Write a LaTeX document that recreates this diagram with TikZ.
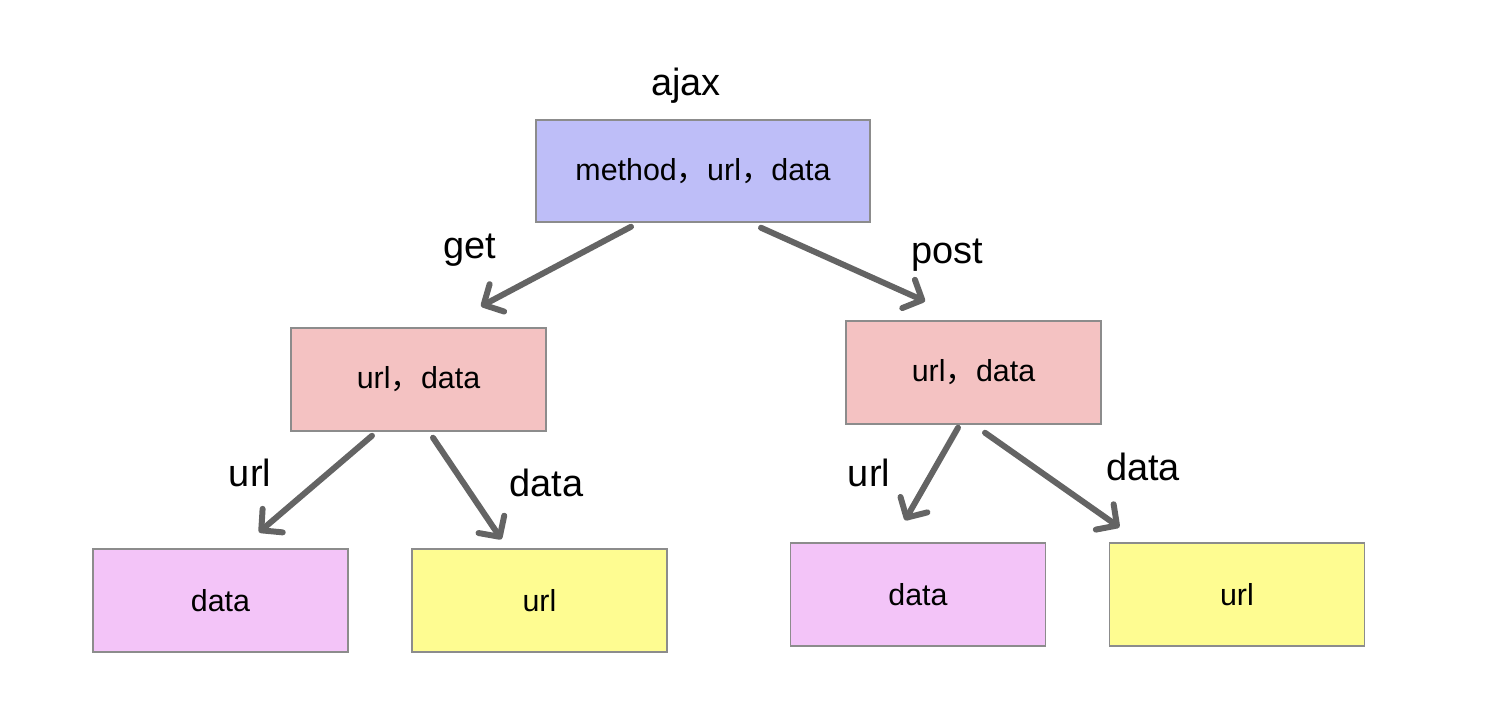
\documentclass[tikz,border=0pt]{standalone}
\usepackage{fontspec}
\setmainfont{Liberation Sans}
\newfontfamily\cjk{Noto Sans CJK SC}
\usepackage{xcolor}
\usetikzlibrary{positioning,calc,arrows.meta}

\definecolor{topblue}{HTML}{BEBEF8}
\definecolor{midpink}{HTML}{F4C2C2}
\definecolor{lowpink}{HTML}{F3C4F8}
\definecolor{lowyellow}{HTML}{FEFC91}
\definecolor{boxline}{HTML}{8C8C8C}
\definecolor{arrowgray}{HTML}{646464}

\newcommand{\fwcomma}{{\cjk ，}}

\begin{document}
\begin{tikzpicture}[
    x=0.02cm, y=-0.02cm,
    box/.style={rectangle, draw=boxline, line width=0.85pt, minimum width=5.1cm, minimum height=2.06cm, align=center, font=\fontsize{17.3}{20}\selectfont},
    lbl/.style={anchor=base, inner sep=0pt, font=\fontsize{21.6}{26}\selectfont},
    arrow/.style={-{Straight Barb[round, length=0.3cm, width=0.62cm]}, draw=arrowgray, line width=3.4pt, line cap=round}
]
    \useasboundingbox (0,0) rectangle (1508,718);

    % Top request
    \node[box, fill=topblue, minimum width=6.68cm, minimum height=2.04cm] (ajax) at (703,171) {method\fwcomma url\fwcomma data};
    \node[lbl] (ajaxlabel) at (686,95) {ajax};

    % Methods
    \node[box, fill=midpink] (get) at (418.5,379.5) {url\fwcomma data};
    \node[box, fill=midpink] (post) at (973.5,372.5) {url\fwcomma data};

    % Get parameters
    \node[box, fill=lowpink] (getdata) at (220.5,600.5) {data};
    \node[box, fill=lowyellow, right=1.25cm of getdata] (geturl) {url};

    % Post parameters
    \node[box, fill=lowpink] (postdata) at (918,594.5) {data};
    \node[box, fill=lowyellow, right=1.25cm of postdata] (posturl) {url};

    % Arrows
    \draw[arrow] ($(ajax.south)+(-72,4)$) -- ($(get.north)+(62.5,-21)$);
    \draw[arrow] ($(ajax.south)+(58,5)$) -- ($(post.north)+(-48.5,-19)$);
    \draw[arrow] ($(get.south)+(-46.5,4)$) -- ($(getdata.north)+(38.5,-16)$);
    \draw[arrow] ($(get.south)+(14.5,6)$) -- ($(geturl.north)+(-38,-9)$);
    \draw[arrow] ($(post.south)+(-15.5,3)$) -- ($(postdata.north)+(-13,-22)$);
    \draw[arrow] ($(post.south)+(11.5,8)$) -- ($(posturl.north)+(-117.5,-15)$);

    % Arrow labels
    \node[lbl] (getlabel) at (470,258) {get};
    \node[lbl] (postlabel) at (947.5,263) {post};
    \node[lbl] (geturllabel) at (250,486) {url};
    \node[lbl] (getdatalabel) at (546.5,496) {data};
    \node[lbl] (posturllabel) at (869,486) {url};
    \node[lbl] (postdatalabel) at (1143,480) {data};
\end{tikzpicture}
\end{document}
